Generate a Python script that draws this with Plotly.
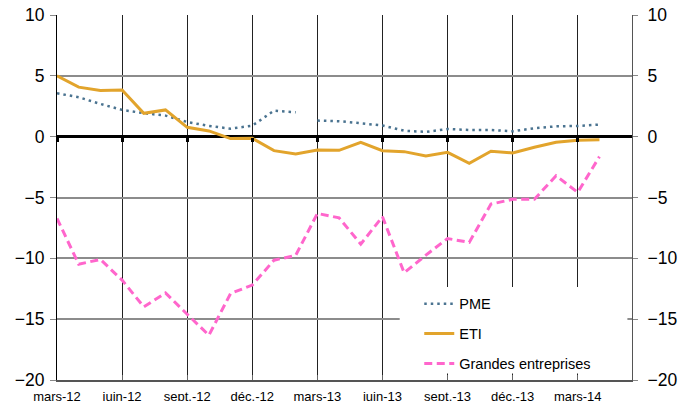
import plotly.graph_objects as go

# ---- data (monthly, mars-12 .. avr.-14) ----
months = ["mars-12", "avr.-12", "mai-12", "juin-12", "juil.-12", "août-12",
          "sept.-12", "oct.-12", "nov.-12", "déc.-12", "janv.-13", "févr.-13",
          "mars-13", "avr.-13", "mai-13", "juin-13", "juil.-13", "août-13",
          "sept.-13", "oct.-13", "nov.-13", "déc.-13", "janv.-14", "févr.-14",
          "mars-14", "avr.-14"]

pme = [3.57, 3.24, 2.69, 2.20, 1.93, 1.73, 1.21, 0.88, 0.66, 0.90, 2.14, 2.00,
       1.32, 1.27, 1.10, 0.92, 0.49, 0.39, 0.63, 0.55, 0.55, 0.44, 0.69, 0.85,
       0.88, 0.99]
pme_break = 12  # the PME series restarts at mars-13 (break in the line)

eti = [5.00, 4.07, 3.79, 3.84, 1.92, 2.20, 0.77, 0.47, -0.16, -0.13, -1.15, -1.42,
       -1.10, -1.12, -0.46, -1.15, -1.23, -1.59, -1.29, -2.19, -1.20, -1.34, -0.87,
       -0.46, -0.30, -0.25]

grandes = [-6.72, -10.48, -10.09, -11.79, -13.99, -12.84, -14.60, -16.32, -12.89,
           -12.20, -10.15, -9.76, -6.31, -6.67, -8.83, -6.58, -11.19, -9.74, -8.37,
           -8.69, -5.54, -5.15, -5.15, -3.21, -4.58, -1.64]

tick_labels = ["mars-12", "juin-12", "sept.-12", "déc.-12", "mars-13",
               "juin-13", "sept.-13", "déc.-13", "mars-14"]
y_ticks = [-20, -15, -10, -5, 0, 5, 10]

# ---- styling ----
FONT = "Arial, Liberation Sans, sans-serif"
C_PME = "#4a7390"
C_ETI = "#e2a42c"
C_GE = "#ff66cc"

x = list(range(len(months)))
tick_vals = [months.index(t) for t in tick_labels]
x_range = [0, len(months) + 0.5]
y_range = [-20, 10]

fig = go.Figure()
pme_line = dict(color=C_PME, width=2.5, dash="2.5px,4px")
fig.add_trace(go.Scatter(x=x[:pme_break], y=pme[:pme_break], name="PME",
                         mode="lines", line=pme_line, legendgroup="pme"))
fig.add_trace(go.Scatter(x=x[pme_break:], y=pme[pme_break:], name="PME",
                         mode="lines", line=pme_line, legendgroup="pme",
                         showlegend=False))
# ETI drawn on the overlaying x-axis that carries the tick marks on the zero line
fig.add_trace(go.Scatter(x=x, y=eti, name="ETI", mode="lines", xaxis="x2",
                         line=dict(color=C_ETI, width=3), legendgroup="eti"))
# Grandes entreprises drawn on the (identical) right-hand axis
fig.add_trace(go.Scatter(x=x, y=grandes, name="Grandes entreprises", mode="lines",
                         yaxis="y2",
                         line=dict(color=C_GE, width=3, dash="8px,4.5px"),
                         legendgroup="ge"))

fig.update_layout(
    width=691, height=401,
    margin=dict(l=57, r=59, t=15, b=21),
    paper_bgcolor="white", plot_bgcolor="white",
    font=dict(family=FONT, color="black"),
    showlegend=True,
    legend=dict(x=0.630, y=0.2525, xanchor="left", yanchor="top",
                bgcolor="rgba(0,0,0,0)", font=dict(size=14.5, family=FONT),
                traceorder="grouped", tracegroupgap=8, itemwidth=30),
    xaxis=dict(range=x_range, tickvals=tick_vals, ticktext=tick_labels,
               showgrid=True, gridcolor="#222222", gridwidth=1,
               ticks="inside", ticklen=5, tickcolor="#666666",
               showline=True, linecolor="#555555", linewidth=1.5,
               zeroline=False, tickfont=dict(size=13),
               ticklabelstandoff=4, automargin=False),
    xaxis2=dict(overlaying="x", anchor="free", position=2 / 3,
                range=x_range, tickvals=tick_vals, showticklabels=False,
                ticks="outside", ticklen=4, tickwidth=3, tickcolor="black",
                showgrid=False, showline=False, zeroline=False,
                automargin=False),
    yaxis=dict(range=y_range, tickvals=y_ticks, showgrid=True,
               gridcolor="#8c8c8c", gridwidth=1.5,
               zeroline=True, zerolinecolor="black", zerolinewidth=3,
               ticks="outside", ticklen=6, tickcolor="#888888",
               showline=True, linecolor="black", linewidth=1,
               tickfont=dict(size=17.5), ticklabelstandoff=2,
               automargin=False),
    yaxis2=dict(overlaying="y", side="right", range=y_range, tickvals=y_ticks,
                showgrid=False, zeroline=False,
                ticks="outside", ticklen=5, tickcolor="#888888",
                showline=True, linecolor="#555555", linewidth=1,
                tickfont=dict(size=17.5), ticklabelstandoff=6,
                automargin=False),
    shapes=[dict(type="rect", xref="paper", yref="paper",
                 x0=0.596, x1=0.992, y0=0.018, y1=0.255,
                 fillcolor="white", line=dict(width=0), layer="above")],
)

fig.write_html("out.html", config={"displayModeBar": False},
               post_script="document.body.style.margin='0';"
                           "document.body.style.overflow='hidden';")
